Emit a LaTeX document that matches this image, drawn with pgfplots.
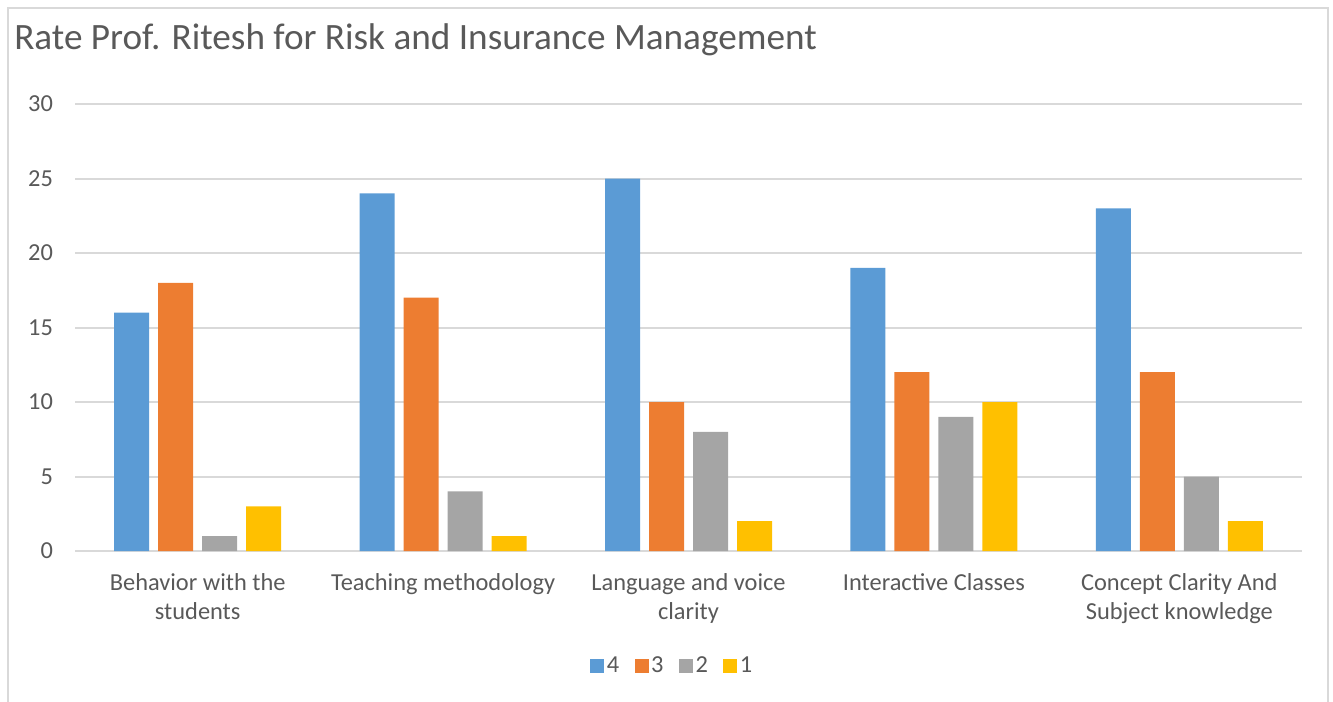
\documentclass[border=0pt]{standalone}
\usepackage{fontspec}
\setmainfont{Carlito}
\usepackage{pgfplots}
\pgfplotsset{compat=1.18}
\definecolor{cblue}{HTML}{5B9BD5}
\definecolor{corange}{HTML}{ED7D31}
\definecolor{cgray}{HTML}{A5A5A5}
\definecolor{cyellow}{HTML}{FFC000}
\definecolor{cgrid}{HTML}{D9D9D9}
\definecolor{ctext}{HTML}{595959}
\begin{document}
\begin{tikzpicture}
\useasboundingbox (0pt,0pt) rectangle (999.75pt,525.75pt);
\draw[cgrid,line width=1.5pt] (6pt,-5pt) -- (6pt,519.75pt) -- (996pt,519.75pt) -- (996pt,-5pt);
\node[anchor=base west,text=ctext,font=\fontsize{27.9}{32}\selectfont,inner sep=0pt] at (10.5pt,488.25pt) {Rate Prof. Ritesh for Risk and Insurance  Management};
\begin{axis}[
  at={(56.25pt,112.5pt)}, anchor=south west,
  scale only axis, width=920.25pt, height=335.25pt,
  ybar, bar width=26.25pt,
  xmin=-0.5, xmax=4.5, ymin=0, ymax=30,
  xtick={0,1,2,3,4},
  xticklabels={{Behavior with the\\students},{Teaching methodology},{Language and voice\\clarity},{Interactive Classes},{Concept Clarity And\\Subject knowledge}},
  ytick={0,5,10,15,20,25,30},
  ymajorgrids, grid style={cgrid,line width=1.5pt},
  axis line style={draw=none},
  axis x line*=bottom,
  x axis line style={cgrid,line width=1.5pt},
  tick style={draw=none},
  /pgf/number format/assume math mode=true,
  tick label style={text=ctext,font=\fontsize{18.3}{22}\selectfont},
  xticklabel style={align=center,yshift=-9pt},
  yticklabel style={xshift=-13pt},
  legend style={at={(0.487,-0.257)},anchor=center,draw=none,legend columns=4,
    font=\fontsize{18.3}{22}\selectfont,text=ctext,
    /tikz/every even column/.append style={column sep=9.5pt}},
  legend image code/.code={\fill[#1] (0pt,-5.25pt) rectangle (10.5pt,5.25pt);},
]
\addplot[fill=cblue,draw=none,bar shift=-49.5pt] coordinates {(0,16) (1,24) (2,25) (3,19) (4,23)};
\addplot[fill=corange,draw=none,bar shift=-16.5pt] coordinates {(0,18) (1,17) (2,10) (3,12) (4,12)};
\addplot[fill=cgray,draw=none,bar shift=16.5pt] coordinates {(0,1) (1,4) (2,8) (3,9) (4,5)};
\addplot[fill=cyellow,draw=none,bar shift=49.5pt] coordinates {(0,3) (1,1) (2,2) (3,10) (4,2)};
\legend{4,3,2,1}
\end{axis}
\end{tikzpicture}
\end{document}
